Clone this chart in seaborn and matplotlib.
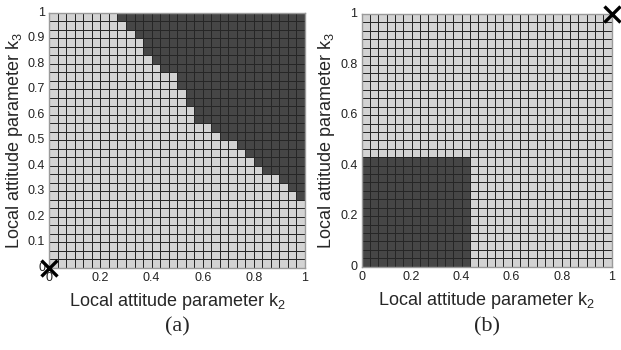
import matplotlib
matplotlib.use("Agg")
import matplotlib.pyplot as plt
import numpy as np
import seaborn as sns
from matplotlib.colors import ListedColormap

# grid resolution of both parameter sweeps
n_cells = 30

# panel (a): first dark column in each row, listed from bottom row to top row
# (30 means the row is entirely light)
a_dark_from = [30, 30, 30, 30, 30, 30, 30, 30,
               29, 28, 27, 25, 24, 23, 22, 20, 19, 17, 17, 16, 16,
               15, 15, 13, 12, 11, 11, 10, 9, 8]

# panel (b): number of dark cells from the left in each row, bottom to top
b_dark_until = [13, 13, 13, 13, 13, 13, 13, 13, 13, 13, 13, 13, 13,
                0, 0, 0, 0, 0, 0, 0, 0, 0, 0, 0, 0, 0, 0, 0, 0, 0]

a_xticks = [0, 0.2, 0.4, 0.6, 0.8, 1]
a_yticks = [0, 0.1, 0.2, 0.3, 0.4, 0.5, 0.6, 0.7, 0.8, 0.9, 1]
b_xticks = [0, 0.2, 0.4, 0.6, 0.8, 1]
b_yticks = [0, 0.2, 0.4, 0.6, 0.8, 1]

# marked start points (k2, k3)
a_mark = (0, 0)
b_mark = (1, 1)

xlabel = "Local attitude parameter k$_\\mathregular{2}$"
ylabel = "Local attitude parameter k$_\\mathregular{3}$"


def fmt(v):
    return "%g" % v


sns.set_style("white")
plt.rcParams["font.family"] = ["Liberation Sans", "DejaVu Sans"]

grid_a = np.zeros((n_cells, n_cells))
for row, start in enumerate(a_dark_from):
    grid_a[row, start:] = 1
grid_b = np.zeros((n_cells, n_cells))
for row, stop in enumerate(b_dark_until):
    grid_b[row, :stop] = 1

cmap = ListedColormap(["#d3d3d3", "#464646"])

fig = plt.figure(figsize=(6.21, 3.5), dpi=100)
ax_a = fig.add_axes([0.0794, 0.2343, 0.4117, 0.7294])
ax_b = fig.add_axes([0.5824, 0.2380, 0.4026, 0.7220])

panels = [
    (ax_a, grid_a, a_xticks, a_yticks, a_mark, "(a)"),
    (ax_b, grid_b, b_xticks, b_yticks, b_mark, "(b)"),
]

for ax, grid, xt, yt, mark, tag in panels:
    sns.heatmap(grid, ax=ax, cmap=cmap, vmin=0, vmax=1, cbar=False,
                linewidths=0.55, linecolor="#262626")
    ax.invert_yaxis()
    ax.set_xticks([v * n_cells for v in xt])
    ax.set_xticklabels([fmt(v) for v in xt], rotation=0, fontsize=9)
    ax.set_yticks([v * n_cells for v in yt])
    ax.set_yticklabels([fmt(v) for v in yt], rotation=0, fontsize=9)
    ax.tick_params(length=0, pad=3, colors="#222222")
    for sp in ax.spines.values():
        sp.set_visible(True)
        sp.set_color("#9a9a9a")
        sp.set_linewidth(1)
    ax.set_xlabel(xlabel, fontsize=13, labelpad=5)
    ax.set_ylabel(ylabel, fontsize=13, labelpad=2)
    ax.plot(mark[0] * n_cells, mark[1] * n_cells, marker="x", color="black",
            markersize=12, mew=2.4, clip_on=False, zorder=10)
    bb = ax.get_position()
    fig.text(bb.x0 + bb.width / 2, 0.065, tag, ha="center", va="center",
             fontsize=16, family=["Liberation Serif", "DejaVu Serif"])

fig.savefig("out.png", dpi=100)
